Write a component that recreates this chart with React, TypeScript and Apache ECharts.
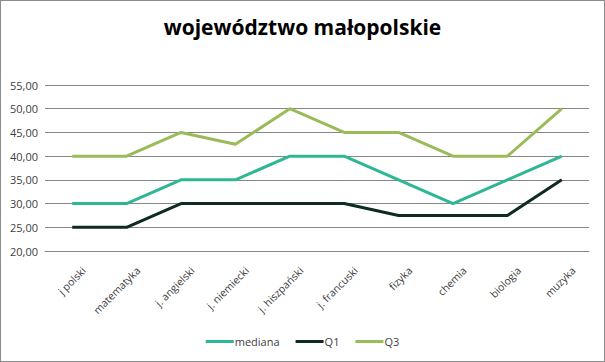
import React, { useEffect, useRef } from "react";
import * as echarts from "echarts";

const categories = ["j polski", "matematyka", "j. angielski", "j. niemiecki", "j. hiszpański", "j. francuski", "fizyka", "chemia", "biologia", "muzyka"];
const mediana = [30, 30, 35, 35, 40, 40, 35, 30, 35, 40];
const q1 = [25, 25, 30, 30, 30, 30, 27.5, 27.5, 27.5, 35];
const q3 = [40, 40, 45, 42.5, 50, 45, 45, 40, 40, 50];

export default function App() {
  const ref = useRef<HTMLDivElement>(null);
  useEffect(() => {
    const chart = echarts.init(ref.current!, null, { renderer: "svg" });
    const font = "Open Sans, Liberation Sans, sans-serif";
    chart.setOption({
      animation: false,
      textStyle: { fontFamily: font },
      title: {
        text: "województwo małopolskie",
        left: "center",
        top: 10,
        textStyle: { fontSize: 21, fontWeight: "bold", color: "#000", fontFamily: font },
      },
      grid: { left: 44, right: 15, top: 84, bottom: 110, containLabel: false },
      legend: {
        bottom: 9,
        left: "center",
        itemWidth: 28,
        itemHeight: 3,
        itemGap: 16,
        icon: "rect",
        textStyle: { fontSize: 11, color: "#404040", fontFamily: font, padding: [0, 0, 0, -4] },
        data: ["mediana", "Q1", "Q3"],
      },
      xAxis: {
        type: "category",
        data: categories,
        boundaryGap: true,
        axisLine: { show: true, lineStyle: { color: "#868686" } },
        axisTick: { show: false },
        axisLabel: {
          rotate: 45,
          fontSize: 10.5,
          color: "#404040",
          interval: 0,
          margin: 6,
          verticalAlign: "top",
          padding: [11, 0, 0, 0],
        },
      },
      yAxis: {
        type: "value",
        min: 20,
        max: 55,
        interval: 5,
        axisLine: { show: false },
        axisTick: { show: false },
        splitLine: { lineStyle: { color: "#868686", width: 1 } },
        axisLabel: {
          fontSize: 11,
          color: "#404040",
          margin: 7,
          formatter: (v: number) => v.toFixed(2).replace(".", ","),
        },
      },
      series: [
        { name: "mediana", type: "line", data: mediana, symbol: "none", lineStyle: { width: 3, color: "#2EB795" }, itemStyle: { color: "#2EB795" } },
        { name: "Q1", type: "line", data: q1, symbol: "none", lineStyle: { width: 3, color: "#0E2B20" }, itemStyle: { color: "#0E2B20" } },
        { name: "Q3", type: "line", data: q3, symbol: "none", lineStyle: { width: 3, color: "#9BBB59" }, itemStyle: { color: "#9BBB59" } },
      ],
    });
    return () => chart.dispose();
  }, []);
  return (
    <div style={{ position: "absolute", left: 0, top: 0, width: 605, height: 362, boxSizing: "border-box", border: "1px solid #8c8c8c", background: "#fff" }}>
      <div ref={ref} style={{ width: 603, height: 360 }} />
    </div>
  );
}
